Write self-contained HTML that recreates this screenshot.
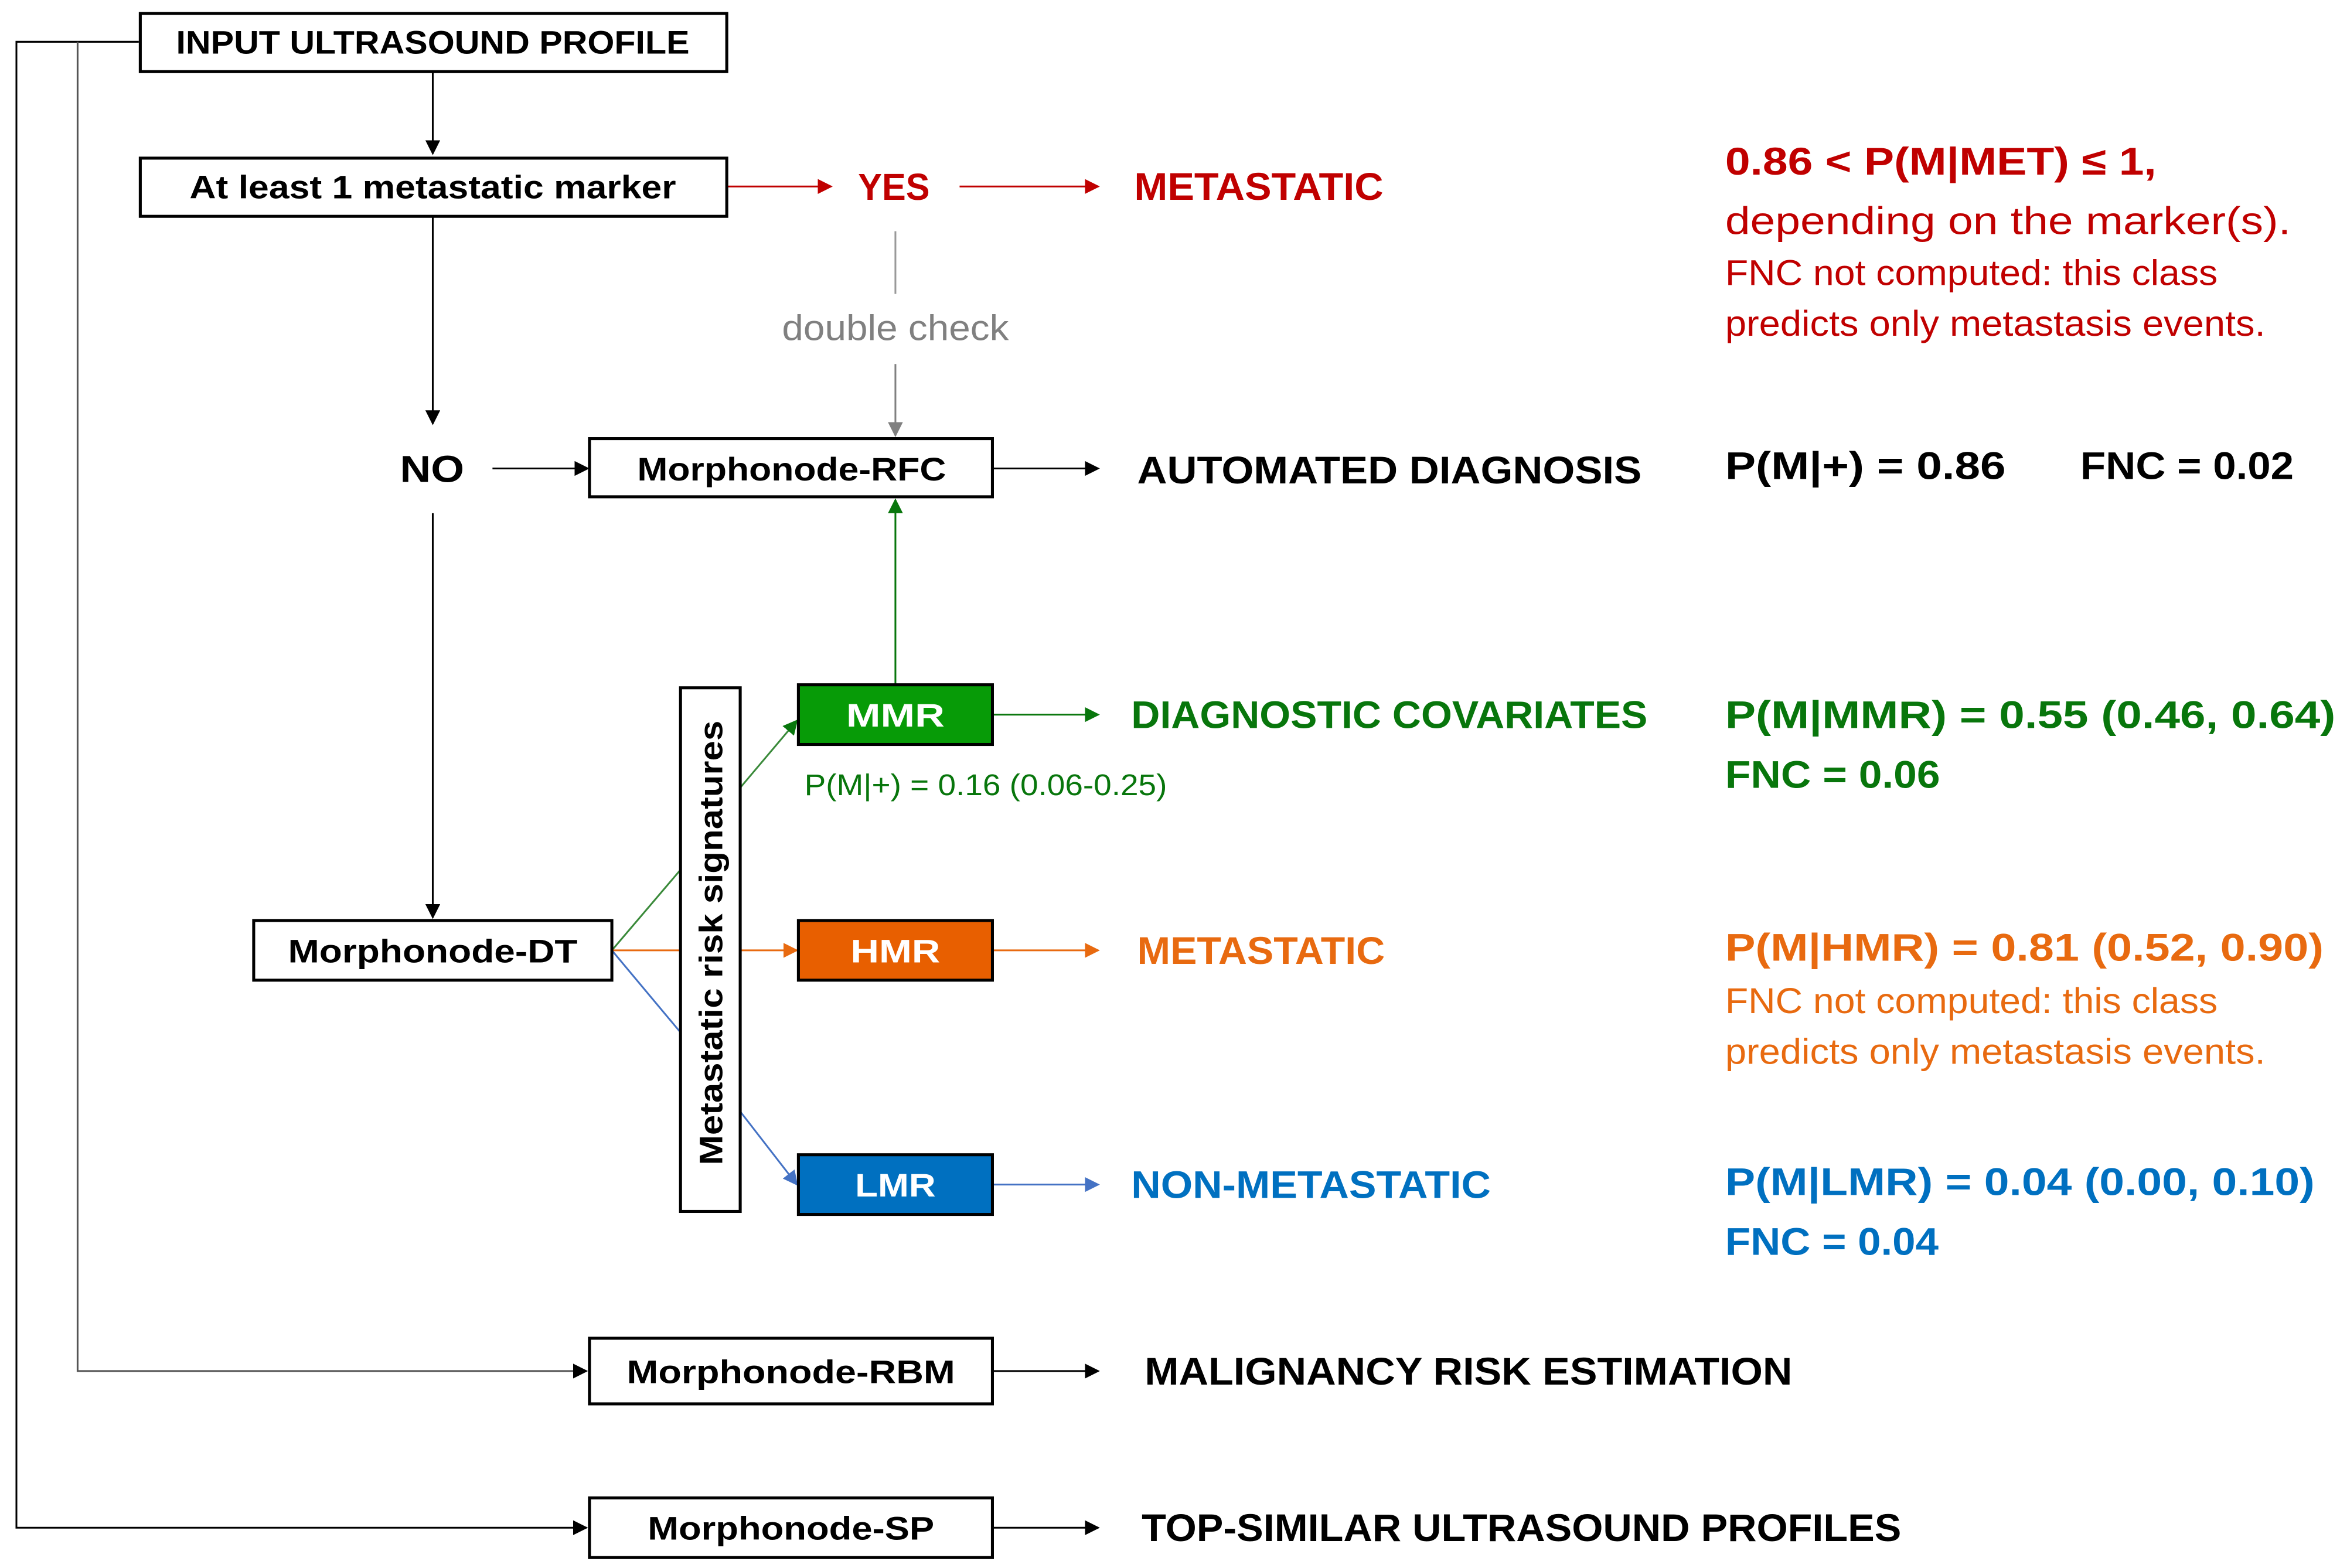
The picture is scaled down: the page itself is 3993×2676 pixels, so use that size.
<!DOCTYPE html>
<html><head><meta charset="utf-8"><style>html,body{margin:0;padding:0;background:#fff}svg{display:block}</style></head><body>
<svg width="3993" height="2676" viewBox="0 0 1568 1051" preserveAspectRatio="none" xmlns="http://www.w3.org/2000/svg" font-family="Liberation Sans, sans-serif">
<defs>
<marker id="ak" markerWidth="10" markerHeight="10" refX="9" refY="5" orient="auto" markerUnits="userSpaceOnUse"><path d="M0,0 L10,5 L0,10 z" fill="#000"/></marker>
<marker id="ar" markerWidth="10" markerHeight="10" refX="9" refY="5" orient="auto" markerUnits="userSpaceOnUse"><path d="M0,0 L10,5 L0,10 z" fill="#c00000"/></marker>
<marker id="ag" markerWidth="10" markerHeight="10" refX="9" refY="5" orient="auto" markerUnits="userSpaceOnUse"><path d="M0,0 L10,5 L0,10 z" fill="#808080"/></marker>
<marker id="agr" markerWidth="10" markerHeight="10" refX="9" refY="5" orient="auto" markerUnits="userSpaceOnUse"><path d="M0,0 L10,5 L0,10 z" fill="#08760c"/></marker>
<marker id="ao" markerWidth="10" markerHeight="10" refX="9" refY="5" orient="auto" markerUnits="userSpaceOnUse"><path d="M0,0 L10,5 L0,10 z" fill="#e86a10"/></marker>
<marker id="ab" markerWidth="10" markerHeight="10" refX="9" refY="5" orient="auto" markerUnits="userSpaceOnUse"><path d="M0,0 L10,5 L0,10 z" fill="#4472c4"/></marker>
</defs>
<g fill="none" stroke-width="1.2">
<polyline points="93,28 11,28 11,1024 393,1024" stroke="#000" marker-end="url(#ak)"/>
<polyline points="52,28 52,919 393,919" stroke="#555" marker-end="url(#ak)"/>
<line x1="290" y1="48" x2="290" y2="103" stroke="#000" marker-end="url(#ak)"/>
<line x1="487" y1="125" x2="557" y2="125" stroke="#c00000" marker-end="url(#ar)"/>
<line x1="643" y1="125" x2="736" y2="125" stroke="#c00000" marker-end="url(#ar)"/>
<line x1="600" y1="155" x2="600" y2="197" stroke="#999"/>
<line x1="600" y1="244" x2="600" y2="292" stroke="#808080" marker-end="url(#ag)"/>
<line x1="290" y1="145" x2="290" y2="284" stroke="#000" marker-end="url(#ak)"/>
<line x1="330" y1="314" x2="394" y2="314" stroke="#000" marker-end="url(#ak)"/>
<line x1="665" y1="314" x2="736" y2="314" stroke="#000" marker-end="url(#ak)"/>
<line x1="290" y1="344" x2="290" y2="615" stroke="#000" marker-end="url(#ak)"/>
<line x1="600" y1="459" x2="600" y2="335" stroke="#08760c" marker-end="url(#agr)"/>
<line x1="410" y1="637" x2="456" y2="583" stroke="#3a8a3a"/>
<line x1="496" y1="528" x2="534" y2="483" stroke="#3a8a3a" marker-end="url(#agr)"/>
<line x1="410" y1="637" x2="456" y2="637" stroke="#e86a10"/>
<line x1="496" y1="637" x2="534" y2="637" stroke="#e86a10" marker-end="url(#ao)"/>
<line x1="410" y1="637" x2="456" y2="692" stroke="#4472c4"/>
<line x1="496" y1="745" x2="534" y2="794" stroke="#4472c4" marker-end="url(#ab)"/>
<line x1="665" y1="479" x2="736" y2="479" stroke="#08760c" marker-end="url(#agr)"/>
<line x1="665" y1="637" x2="736" y2="637" stroke="#e86a10" marker-end="url(#ao)"/>
<line x1="665" y1="794" x2="736" y2="794" stroke="#4472c4" marker-end="url(#ab)"/>
<line x1="665" y1="919" x2="736" y2="919" stroke="#000" marker-end="url(#ak)"/>
<line x1="665" y1="1024" x2="736" y2="1024" stroke="#000" marker-end="url(#ak)"/>
</g>
<g stroke="#000" stroke-width="2" fill="#fff">
<rect x="94" y="9" width="393" height="39"/>
<rect x="94" y="106" width="393" height="39"/>
<rect x="395" y="294" width="270" height="39"/>
<rect x="170" y="617" width="240" height="40"/>
<rect x="456" y="461" width="40" height="351"/>
<rect x="535" y="459" width="130" height="40" fill="#079b07"/>
<rect x="535" y="617" width="130" height="40" fill="#e85f00"/>
<rect x="535" y="774" width="130" height="40" fill="#0070c0"/>
<rect x="395" y="897" width="270" height="44"/>
<rect x="395" y="1004" width="270" height="40"/>
</g>
<g font-weight="bold" font-size="22" lengthAdjust="spacingAndGlyphs">
<text x="118" y="36" textLength="344" lengthAdjust="spacingAndGlyphs">INPUT ULTRASOUND PROFILE</text>
<text x="127" y="133" textLength="326" lengthAdjust="spacingAndGlyphs">At least 1 metastatic marker</text>
<text x="575" y="134" font-size="25" fill="#c00000" textLength="48" lengthAdjust="spacingAndGlyphs">YES</text>
<text x="760" y="134" font-size="26" fill="#c00000" textLength="167" lengthAdjust="spacingAndGlyphs">METASTATIC</text>
<text x="268" y="323" font-size="25" textLength="43" lengthAdjust="spacingAndGlyphs">NO</text>
<text x="427" y="322" textLength="207" lengthAdjust="spacingAndGlyphs">Morphonode-RFC</text>
<text x="762" y="324" font-size="26" textLength="338" lengthAdjust="spacingAndGlyphs">AUTOMATED DIAGNOSIS</text>
<text x="1156" y="321" font-size="26" textLength="188" lengthAdjust="spacingAndGlyphs">P(M|+) = 0.86</text>
<text x="1394" y="321" font-size="26" textLength="143" lengthAdjust="spacingAndGlyphs">FNC = 0.02</text>
<text x="1156" y="117" font-size="26" fill="#c00000" textLength="289" lengthAdjust="spacingAndGlyphs">0.86 &lt; P(M|MET) ≤ 1,</text>
<text x="567" y="487" fill="#fff" textLength="66" lengthAdjust="spacingAndGlyphs">MMR</text>
<text x="570" y="645" fill="#fff" textLength="60" lengthAdjust="spacingAndGlyphs">HMR</text>
<text x="573" y="802" fill="#fff" textLength="54" lengthAdjust="spacingAndGlyphs">LMR</text>
<text x="193" y="645" textLength="194" lengthAdjust="spacingAndGlyphs">Morphonode-DT</text>
<text x="484" y="781" transform="rotate(-90 484 781)" textLength="298" lengthAdjust="spacingAndGlyphs">Metastatic risk signatures</text>
<text x="758" y="488" font-size="26" fill="#08760c" textLength="346" lengthAdjust="spacingAndGlyphs">DIAGNOSTIC COVARIATES</text>
<text x="1156" y="488" font-size="26" fill="#08760c" textLength="409" lengthAdjust="spacingAndGlyphs">P(M|MMR) = 0.55 (0.46, 0.64)</text>
<text x="1156" y="528" font-size="26" fill="#08760c" textLength="144" lengthAdjust="spacingAndGlyphs">FNC = 0.06</text>
<text x="762" y="646" font-size="26" fill="#e86a10" textLength="166" lengthAdjust="spacingAndGlyphs">METASTATIC</text>
<text x="1156" y="644" font-size="26" fill="#e86a10" textLength="401" lengthAdjust="spacingAndGlyphs">P(M|HMR) = 0.81 (0.52, 0.90)</text>
<text x="758" y="803" font-size="26" fill="#0070c0" textLength="241" lengthAdjust="spacingAndGlyphs">NON-METASTATIC</text>
<text x="1156" y="801" font-size="26" fill="#0070c0" textLength="395" lengthAdjust="spacingAndGlyphs">P(M|LMR) = 0.04 (0.00, 0.10)</text>
<text x="1156" y="841" font-size="26" fill="#0070c0" textLength="143" lengthAdjust="spacingAndGlyphs">FNC = 0.04</text>
<text x="420" y="927" textLength="220" lengthAdjust="spacingAndGlyphs">Morphonode-RBM</text>
<text x="767" y="928" font-size="26" textLength="434" lengthAdjust="spacingAndGlyphs">MALIGNANCY RISK ESTIMATION</text>
<text x="434" y="1032" textLength="192" lengthAdjust="spacingAndGlyphs">Morphonode-SP</text>
<text x="765" y="1033" font-size="26" textLength="509" lengthAdjust="spacingAndGlyphs">TOP-SIMILAR ULTRASOUND PROFILES</text>
</g>
<g font-size="24">
<text x="524" y="228" fill="#808080" textLength="152" lengthAdjust="spacingAndGlyphs">double check</text>
<text x="1156" y="157" font-size="26" fill="#c00000" textLength="379" lengthAdjust="spacingAndGlyphs">depending on the marker(s).</text>
<text x="1156" y="191" fill="#c00000" textLength="330" lengthAdjust="spacingAndGlyphs">FNC not computed: this class</text>
<text x="1156" y="225" fill="#c00000" textLength="362" lengthAdjust="spacingAndGlyphs">predicts only metastasis events.</text>
<text x="539" y="533" font-size="20" fill="#08760c" textLength="243" lengthAdjust="spacingAndGlyphs">P(M|+) = 0.16 (0.06-0.25)</text>
<text x="1156" y="679" fill="#e86a10" textLength="330" lengthAdjust="spacingAndGlyphs">FNC not computed: this class</text>
<text x="1156" y="713" fill="#e86a10" textLength="362" lengthAdjust="spacingAndGlyphs">predicts only metastasis events.</text>
</g>
</svg>
</body></html>
